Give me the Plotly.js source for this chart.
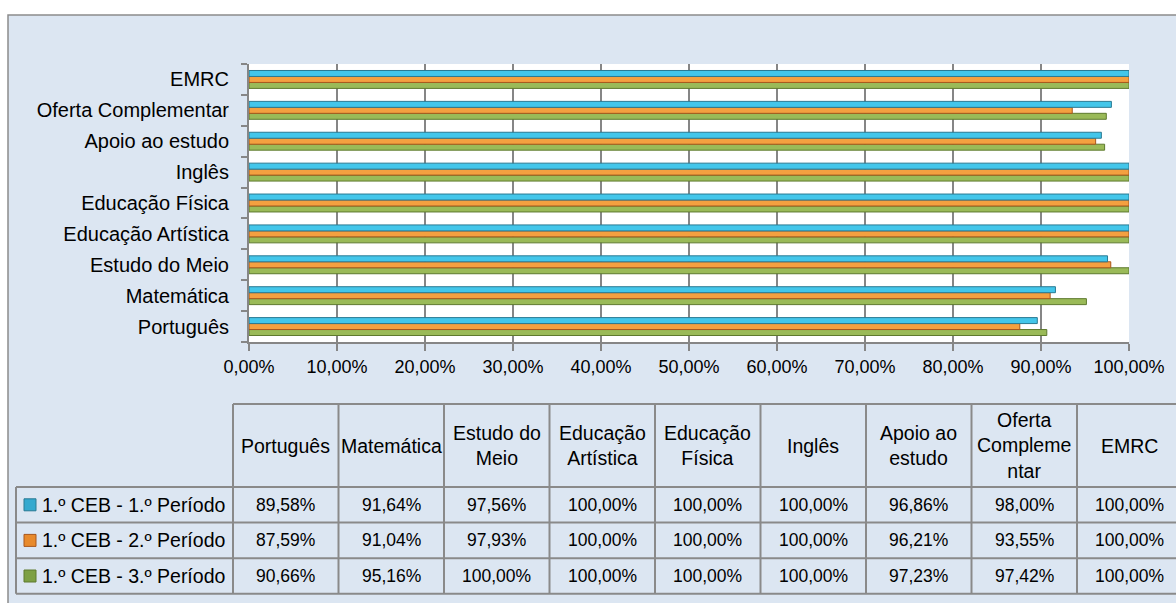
<!DOCTYPE html>
<html>
<head>
<meta charset="utf-8">
<script src="https://cdn.plot.ly/plotly-3.0.1.min.js"></script>
<style>
  html, body { margin: 0; padding: 0; background: #ffffff; }
  #chart { width: 1176px; height: 603px; }
</style>
</head>
<body>
<div id="chart"></div>
<script>
// ---------- Data ----------
const categories = ["Português", "Matemática", "Estudo do Meio", "Educação Artística",
  "Educação Física", "Inglês", "Apoio ao estudo", "Oferta Complementar", "EMRC"];
const tableHeaders = ["Português", "Matemática", "Estudo do<br>Meio", "Educação<br>Artística",
  "Educação<br>Física", "Inglês", "Apoio ao<br>estudo", "Oferta<br>Compleme<br>ntar", "EMRC"];
const seriesNames = ["1.º CEB - 1.º Período", "1.º CEB - 2.º Período", "1.º CEB - 3.º Período"];
const periodo1 = [0.8958, 0.9164, 0.9756, 1.0, 1.0, 1.0, 0.9686, 0.9800, 1.0];
const periodo2 = [0.8759, 0.9104, 0.9793, 1.0, 1.0, 1.0, 0.9621, 0.9355, 1.0];
const periodo3 = [0.9066, 0.9516, 1.0, 1.0, 1.0, 1.0, 0.9723, 0.9742, 1.0];
const seriesValues = [periodo1, periodo2, periodo3];

// ---------- Styles ----------
const fillColors = ["#43c6ea", "#f4a040", "#9aba58"];
const lineColors = ["#2a7a93", "#a8571c", "#5e7a2e"];
const keyColors = ["#34a9cf", "#e88a2c", "#7da044"];
const FONT = "Liberation Sans, Arial, sans-serif";
const W = 1176, H = 603;
const L = 249, R = 1129, T = 64, B = 342;
const PW = R - L, PH = B - T;
const gx = px => (px - L) / PW;
const gy = py => (B - py) / PH;
const gridCol = "#868686";

// bars: trace order bottom->top inside each group (3rd period bottom, 1st on top)
const traces = [2, 1, 0].map(i => ({
  type: "bar",
  orientation: "h",
  name: seriesNames[i],
  y: categories,
  x: seriesValues[i],
  marker: { color: fillColors[i], line: { color: lineColors[i], width: 1 } },
  hoverinfo: "x+y+name",
  showlegend: false
}));

// ---------- Table (shapes + annotations) ----------
const shapes = [];
const annotations = [];
// chart area background
shapes.push({ type: "rect", xref: "paper", yref: "paper", layer: "below",
  x0: gx(8), x1: gx(1195), y0: gy(15), y1: gy(620),
  fillcolor: "#dce6f2", line: { color: "#8c8c8c", width: 1.5 } });
// plot area background
shapes.push({ type: "rect", xref: "paper", yref: "paper", layer: "below",
  x0: 0, x1: 1, y0: 0, y1: 1, fillcolor: "#ffffff", line: { width: 0 } });

const colX0 = 233, colW = 105.5;
const headTop = 404, headBot = 487, rowH = 35.6;
const legLeft = 16;
const nCols = categories.length, nRows = seriesNames.length;
const tableBot = headBot + nRows * rowH;
const tableRight = colX0 + nCols * colW;
const tl = { color: "#8a8a8a", width: 2 };
function hline(x0, x1, y) { shapes.push({ type: "line", xref: "paper", yref: "paper", x0: gx(x0), x1: gx(x1), y0: gy(y), y1: gy(y), line: tl }); }
function vline(x, y0, y1) { shapes.push({ type: "line", xref: "paper", yref: "paper", x0: gx(x), x1: gx(x), y0: gy(y0), y1: gy(y1), line: tl }); }

hline(colX0, tableRight, headTop);
hline(legLeft, tableRight, headBot);
for (let r = 1; r <= nRows; r++) hline(legLeft, tableRight, headBot + r * rowH);
vline(legLeft, headBot, tableBot);
for (let c = 0; c <= nCols; c++) vline(colX0 + c * colW, headTop, tableBot);

const fmt = v => (v * 100).toFixed(2).replace(".", ",") + "%";
for (let c = 0; c < nCols; c++) {
  const cx = colX0 + (c + 0.5) * colW;
  annotations.push({ xref: "paper", yref: "paper", x: gx(cx), y: gy((headTop + headBot) / 2),
    text: tableHeaders[c], showarrow: false, xanchor: "center", yanchor: "middle", align: "center",
    font: { family: FONT, size: 19.5, color: "#000" } });
  for (let r = 0; r < nRows; r++) {
    const cy = headBot + (r + 0.5) * rowH;
    annotations.push({ xref: "paper", yref: "paper", x: gx(cx), y: gy(cy),
      text: fmt(seriesValues[r][c]), showarrow: false, xanchor: "center", yanchor: "middle",
      font: { family: FONT, size: 17.5, color: "#000" } });
  }
}
for (let r = 0; r < nRows; r++) {
  const cy = headBot + (r + 0.5) * rowH;
  shapes.push({ type: "rect", xref: "paper", yref: "paper",
    x0: gx(24), x1: gx(36), y0: gy(cy - 6), y1: gy(cy + 6),
    fillcolor: keyColors[r], line: { color: lineColors[r], width: 1 } });
  annotations.push({ xref: "paper", yref: "paper", x: gx(40), y: gy(cy),
    text: seriesNames[r], showarrow: false, xanchor: "left", yanchor: "middle",
    font: { family: FONT, size: 19.5, color: "#000" } });
}

const layout = {
  width: W, height: H,
  margin: { l: L, r: W - R, t: T, b: H - B, pad: 0 },
  paper_bgcolor: "#ffffff",
  plot_bgcolor: "rgba(0,0,0,0)",
  separators: ", ",
  barmode: "group",
  bargap: 0.42,
  bargroupgap: 0,
  showlegend: false,
  font: { family: FONT, color: "#000" },
  xaxis: {
    range: [0, 1], dtick: 0.1, tick0: 0, tickformat: ".2%",
    showgrid: true, gridcolor: gridCol, gridwidth: 2,
    showline: true, linecolor: gridCol, linewidth: 2,
    ticks: "outside", ticklen: 7, tickwidth: 2, tickcolor: gridCol,
    zeroline: false, fixedrange: true,
    tickfont: { family: FONT, size: 18, color: "#000" }
  },
  yaxis: {
    type: "category", categoryorder: "array", categoryarray: categories,
    range: [-0.5, categories.length - 0.5],
    tickson: "boundaries", ticks: "outside", ticklen: 6, tickwidth: 2, tickcolor: gridCol,
    showline: true, linecolor: gridCol, linewidth: 2,
    showgrid: false, zeroline: false, fixedrange: true,
    ticklabelstandoff: 14,
    tickfont: { family: FONT, size: 20, color: "#000" }
  },
  shapes: shapes,
  annotations: annotations
};

Plotly.newPlot("chart", traces, layout, { displayModeBar: false, staticPlot: false });
</script>
</body>
</html>
